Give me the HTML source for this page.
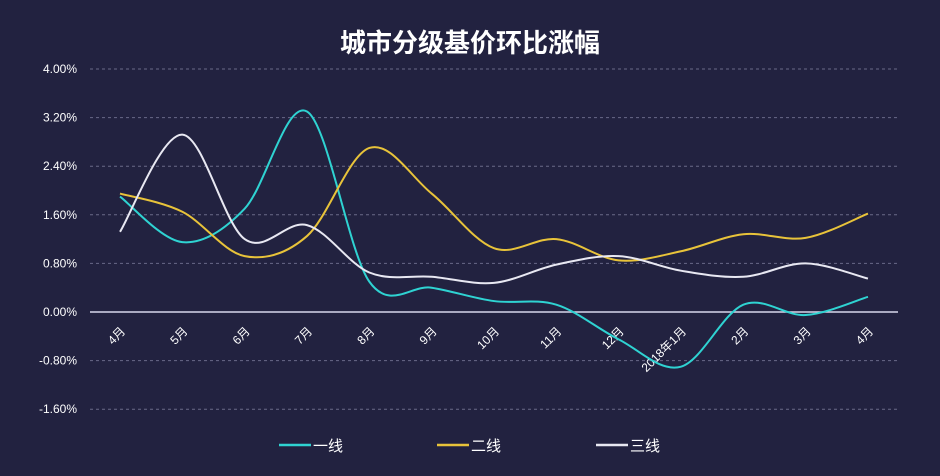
<!DOCTYPE html>
<html><head><meta charset="utf-8"><style>
body{margin:0;background:#222240;}
svg{display:block;font-family:"Liberation Sans","Noto Sans CJK SC",sans-serif;}
</style></head><body>
<svg id="chart" width="940" height="476" viewBox="0 0 940 476">
<rect width="940" height="476" fill="#222240"/>
<text x="470" y="52" text-anchor="middle" fill="#ffffff" font-size="26" font-weight="bold">城市分级基价环比涨幅</text>
<g id="grid"></g><g id="xl"></g><g id="series"></g><g id="legend"></g>
</svg>
<script>
const categories=["4月","5月","6月","7月","8月","9月","10月","11月","12月","2018年1月","2月","3月","4月"];
const yTicks=[4,3.2,2.4,1.6,0.8,0,-0.8,-1.6];
const tier1=[1.9,1.15,1.7,3.3,0.5,0.4,0.18,0.12,-0.45,-0.9,0.12,-0.05,0.25];
const tier2=[1.95,1.65,0.92,1.25,2.7,1.95,1.05,1.2,0.85,1.0,1.28,1.22,1.62];
const tier3=[1.32,2.92,1.2,1.43,0.65,0.58,0.48,0.78,0.92,0.68,0.58,0.8,0.55];
const NS="http://www.w3.org/2000/svg";
const X=i=>120+i*62.33, Y=v=>312-v*60.75;
function mk(t,a,p){const e=document.createElementNS(NS,t);for(const k in a)e.setAttribute(k,a[k]);(p||document.getElementById('chart')).appendChild(e);return e;}
const grid=document.getElementById('grid');
yTicks.forEach(v=>{
 const l=mk('line',{x1:90,x2:898,y1:Y(v),y2:Y(v),stroke:v===0?'#d8d8ec':'#6a6a88','stroke-width':v===0?1.5:1,'stroke-dasharray':v===0?'none':'3,3'},grid);
 
 
 const t=mk('text',{x:77,y:Y(v)+4,'text-anchor':'end',fill:'#ffffff','font-size':12},grid);
 t.textContent=v.toFixed(2)+'%';
 
 
});
const xl=document.getElementById('xl');
categories.forEach((c,i)=>{
 const x=X(i)+6,y=332;
 const t=mk('text',{x:x,y:y,'text-anchor':'end',fill:'#ffffff','font-size':12,transform:`rotate(-45 ${x} ${y})`},xl);
 t.textContent=c;
 
 
});
function path(vals){
 const p=vals.map((v,i)=>[X(i),Y(v)]);let d=`M${p[0][0]},${p[0][1]}`;
 for(let i=0;i<p.length-1;i++){const p0=p[i-1]||p[i],p1=p[i],p2=p[i+1],p3=p[i+2]||p2;
  const c1=[p1[0]+(p2[0]-p0[0])/6,p1[1]+(p2[1]-p0[1])/6],c2=[p2[0]-(p3[0]-p1[0])/6,p2[1]-(p3[1]-p1[1])/6];
  d+=`C${c1[0]},${c1[1]} ${c2[0]},${c2[1]} ${p2[0]},${p2[1]}`;}
 return d;}
const sg=document.getElementById('series');
const defs=[[tier1,'#2fd3d2','一线',279],[tier2,'#e8c33a','二线',437],[tier3,'#e8e8f2','三线',596]];
const names=['series-tier1','series-tier2','series-tier3'];
defs.forEach((s,k)=>{
 const pth=mk('path',{d:path(s[0]),fill:'none',stroke:s[1],'stroke-width':2},sg);
 
 
 const lg=document.getElementById('legend');
 const g=mk('g',{},lg);
 
 
 mk('line',{x1:s[3],x2:s[3]+32,y1:445,y2:445,stroke:s[1],'stroke-width':2.5},g);
 const t=mk('text',{x:s[3]+34,y:451,fill:'#ffffff','font-size':15},g);
 t.textContent=s[2];
});
</script>
</body></html>
